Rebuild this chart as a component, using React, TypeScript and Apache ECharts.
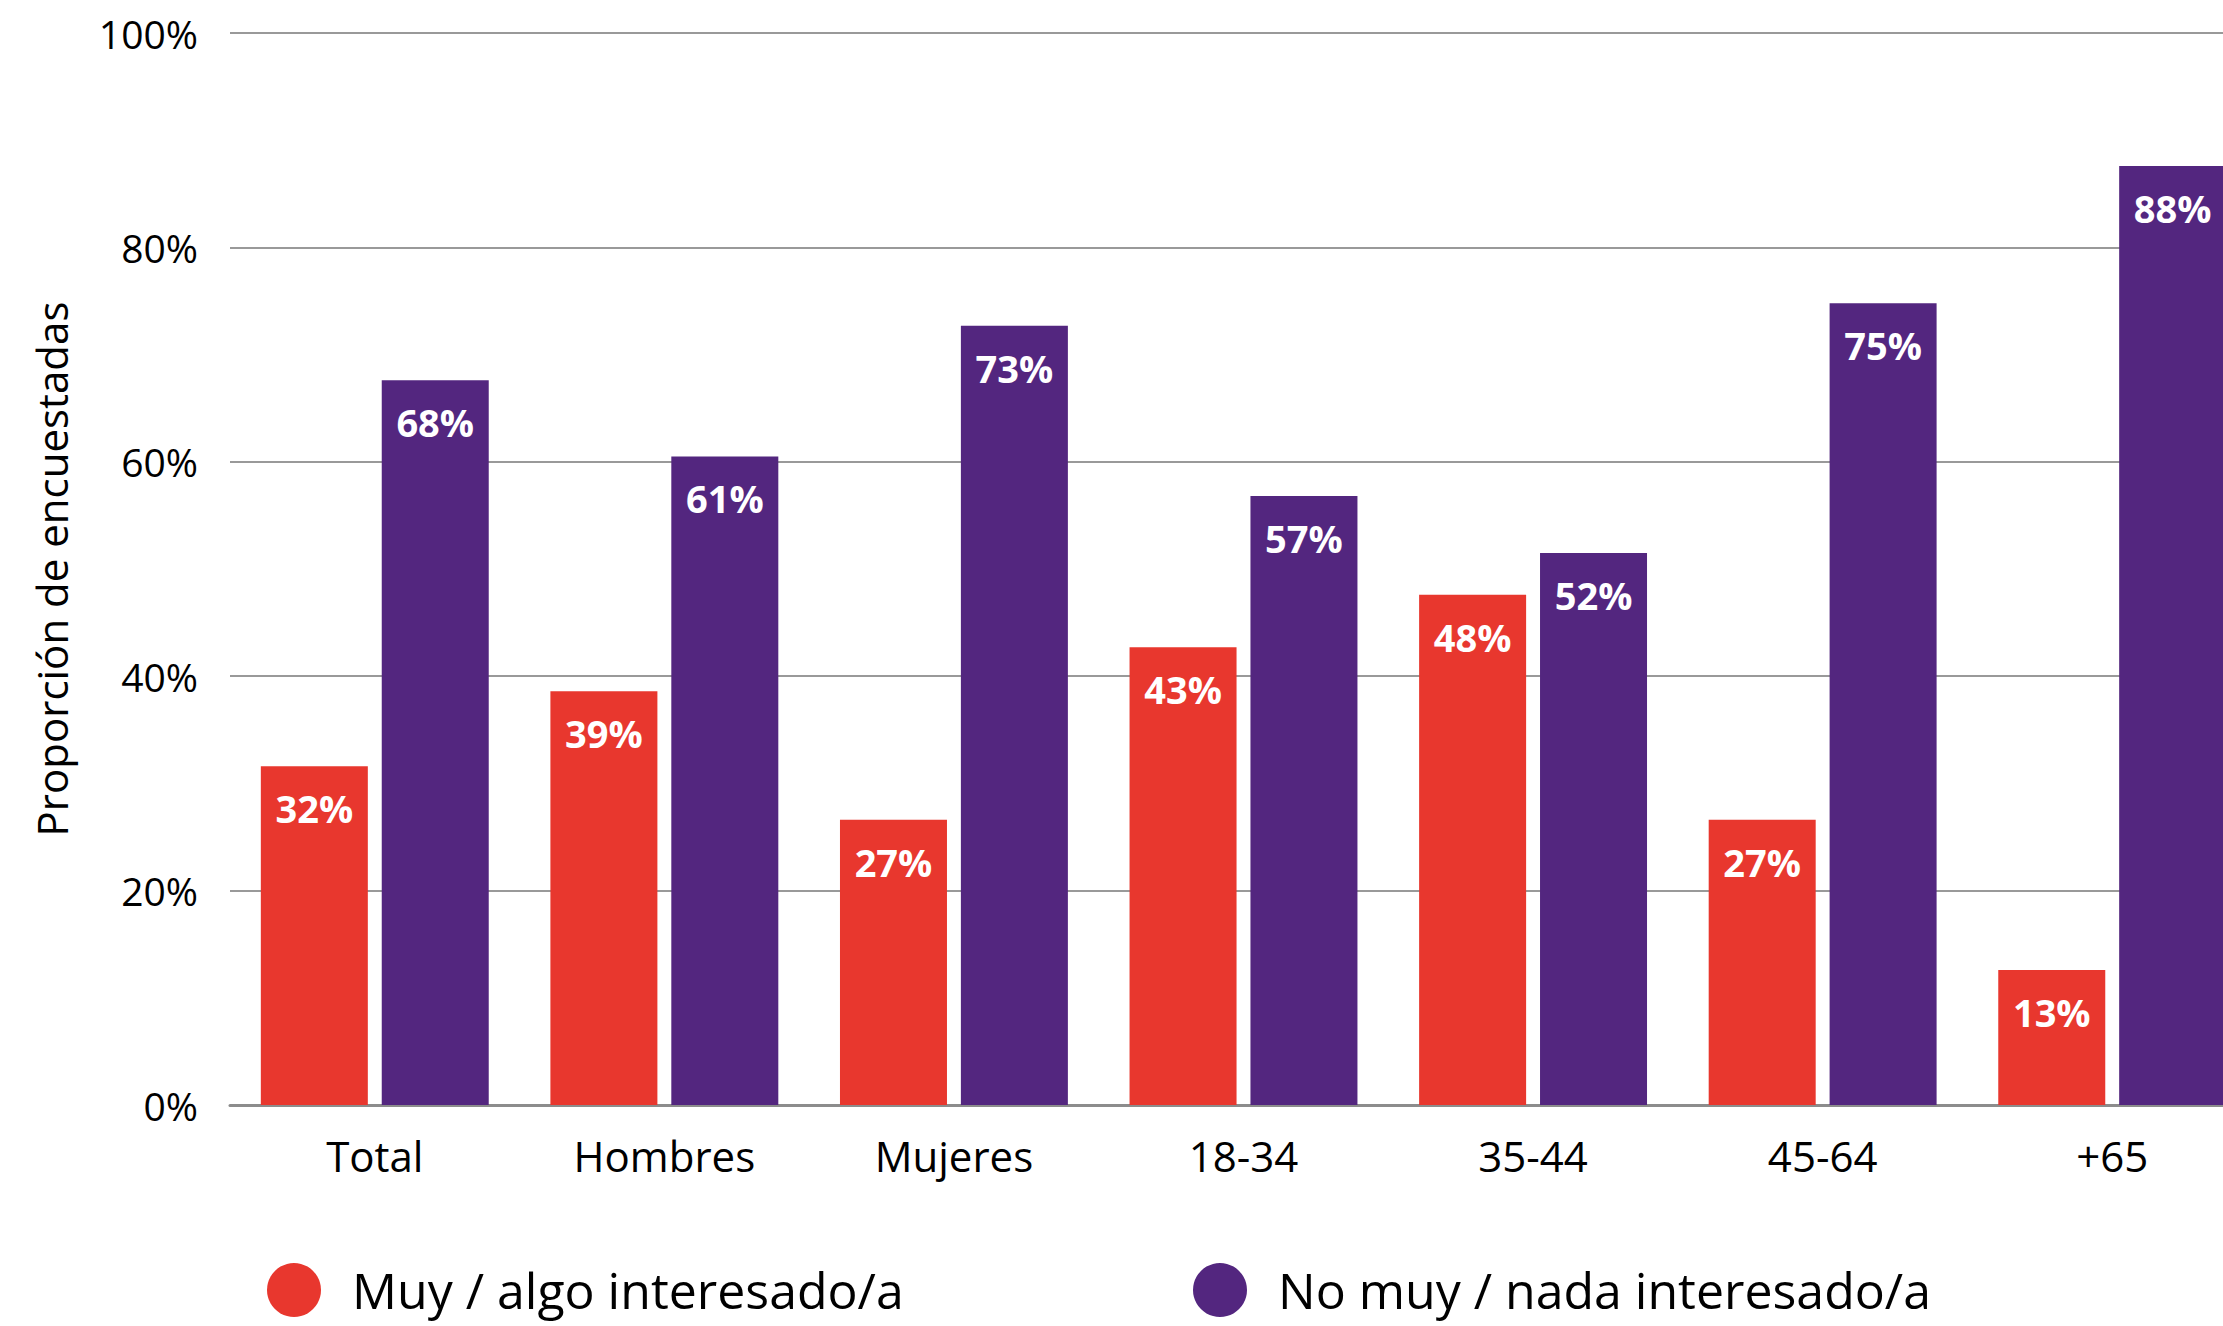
import React, { useEffect, useRef } from "react";
import * as echarts from "echarts";

const categories = ["Total", "Hombres", "Mujeres", "18-34", "35-44", "45-64", "+65"];
const interesados = [31.6, 38.6, 26.6, 42.7, 47.6, 26.6, 12.6];
const noInteresados = [67.6, 60.5, 72.7, 56.8, 51.5, 74.8, 87.6];
const seriesNames = ["Muy / algo interesado/a", "No muy / nada interesado/a"];
const yTicks = [0, 20, 40, 60, 80, 100];

const RED = "#E8372E";
const PURPLE = "#53267F";
const FONT = "'Open Sans', 'Noto Sans', sans-serif";

export default function App() {
  const ref = useRef<HTMLDivElement>(null);
  useEffect(() => {
    if (!ref.current) return;
    const chart = echarts.init(ref.current, undefined, { renderer: "svg" });
    const labelCfg = {
      show: true,
      position: "insideTop",
      distance: 23,
      color: "#ffffff",
      fontFamily: FONT,
      fontWeight: "bold",
      fontSize: 38,
      formatter: (p: any) => Math.round(p.value) + "%",
    };
    const legendText = { fontSize: 50, color: "#000", fontFamily: FONT, padding: [0, 0, 0, 26] };
    chart.setOption({
      animation: false,
      backgroundColor: "#ffffff",
      textStyle: { fontFamily: FONT },
      grid: {
        left: 230,
        top: 33,
        bottom: 221,
        width: 2027,
        containLabel: false,
        outerBoundsMode: "none",
      },
      legend: [
        {
          data: [seriesNames[0]],
          left: 262,
          top: 1258,
          icon: "circle",
          itemWidth: 54,
          itemHeight: 54,
          textStyle: legendText,
        },
        {
          data: [seriesNames[1]],
          left: 1188,
          top: 1258,
          icon: "circle",
          itemWidth: 54,
          itemHeight: 54,
          textStyle: legendText,
        },
      ],
      xAxis: {
        type: "category",
        data: categories,
        axisTick: { show: false },
        axisLine: { show: true, lineStyle: { color: "#8c8c8c", width: 3 } },
        axisLabel: { margin: 29, fontSize: 42, color: "#000", fontFamily: FONT },
      },
      yAxis: {
        type: "value",
        min: yTicks[0],
        max: yTicks[yTicks.length - 1],
        interval: 20,
        name: "Proporción de encuestadas",
        nameLocation: "middle",
        nameGap: 158,
        nameTextStyle: { fontSize: 42, color: "#000", fontFamily: FONT },
        axisLine: { show: false },
        axisTick: { show: false },
        axisLabel: {
          margin: 32,
          fontSize: 39,
          color: "#000",
          fontFamily: FONT,
          formatter: (v: number) => v + "%",
        },
        splitLine: { show: true, lineStyle: { color: "#999999", width: 2 } },
      },
      series: [
        {
          name: seriesNames[0],
          type: "bar",
          data: interesados,
          barWidth: 107,
          barGap: "13%",
          itemStyle: { color: RED },
          label: labelCfg,
        },
        {
          name: seriesNames[1],
          type: "bar",
          data: noInteresados,
          barWidth: 107,
          barGap: "13%",
          itemStyle: { color: PURPLE },
          label: labelCfg,
        },
      ],
    });
    return () => chart.dispose();
  }, []);
  return (
    <div
      ref={ref}
      style={{ position: "absolute", left: 0, top: 0, width: 2223, height: 1326 }}
    />
  );
}
